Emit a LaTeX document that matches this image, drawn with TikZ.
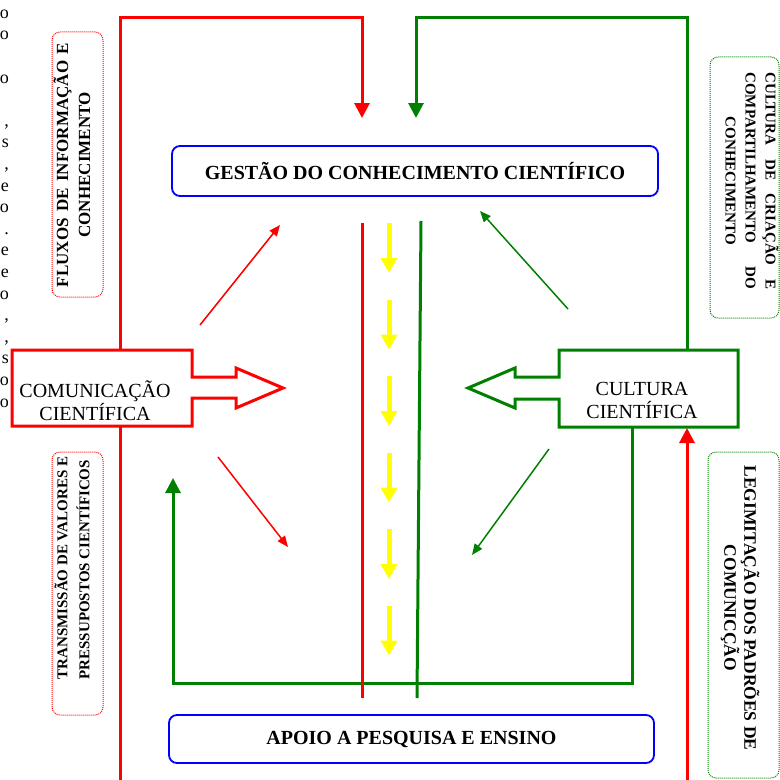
\documentclass[tikz,border=0pt]{standalone}
\usepackage{fontspec}
\setmainfont{Liberation Serif}
\usetikzlibrary{arrows.meta}
\definecolor{flowred}{RGB}{255,0,0}
\definecolor{flowgreen}{RGB}{0,128,0}
\definecolor{boxblue}{RGB}{0,0,255}
\definecolor{flowyellow}{RGB}{255,255,0}
\begin{document}
\begin{tikzpicture}[x=1bp,y=-1bp,
  thickred/.style={draw=flowred,line width=3bp},
  thickgreen/.style={draw=flowgreen,line width=3bp},
  bigtip/.style={-{Triangle[length=15bp,width=15bp]}},
  thintip/.style={-{Triangle[length=11bp,width=9bp]}},
  mainbox/.style={draw=boxblue,line width=1.8bp,rounded corners=8bp,fill=white,
    font=\fontsize{20bp}{24bp}\selectfont\bfseries,inner sep=0pt},
  boxtext/.style={font=\fontsize{20bp}{23bp}\selectfont,align=center,inner sep=0pt},
  sidetext/.style={font=\fontsize{15bp}{22bp}\selectfont\bfseries,align=center,inner sep=0pt},
  redframe/.style={draw=flowred,line width=1bp,dash pattern=on 1bp off 1bp,rounded corners=8bp},
  greenframe/.style={draw=flowgreen,line width=1bp,dash pattern=on 1bp off 1bp,rounded corners=8bp},
  yellowdash/.style={draw=flowyellow,line width=5bp,-{Triangle[length=15bp,width=16bp]}},
  stray/.style={font=\fontsize{18bp}{20bp}\selectfont,anchor=base east,inner sep=0pt}
]
\useasboundingbox (0,0) rectangle (780,780);
\clip (0,0) rectangle (780,780);

% cut-off line endings of the running text at the left margin (line k from the bottom)
\foreach \k/\c in {0/o,1/o,2/s,3/{,},4/{,},5/o,6/e,7/e,8/.,9/o,10/e,11/{,},12/s,13/{,},15/o,17/o,18/o}
  \node[stray] at (9,407-21.6*\k) {\c};

% main boxes
\node[mainbox,minimum width=486bp,minimum height=50bp] (gestao) at (415,171) {GESTÃO DO CONHECIMENTO CIENTÍFICO};
\node[mainbox,minimum width=485bp,minimum height=48bp] (apoio) at (411.5,739) {APOIO A PESQUISA E ENSINO};

% anchor points of the loops
\coordinate (redin)   at (362,118);
\coordinate (greenin) at (416,118);
\coordinate (redbase) at (120,780);
\coordinate (commtip) at (687,780);
\coordinate (cultn)   at (687,350);
\coordinate (cults)   at (632,427);
\coordinate (cultin)  at (687,428);
\coordinate (loopin)  at (173,478);

% outer loops
\draw[thickred,bigtip] (redbase) -- (120,18) -| (redin);
\draw[thickgreen,bigtip] (cultn) -- (687,18) -| (greenin);
\draw[thickgreen,bigtip] (cults) |- (173,683) -- (loopin);
\draw[thickred,bigtip] (commtip) -- (cultin);

% central channel
\coordinate (rtop) at (362,223);
\coordinate (rbot) at (362,698);
\coordinate (gtop) at (421,221);
\coordinate (gbot) at (417,698);
\draw[thickred] (rtop) -- (rbot);
\draw[thickgreen] (gtop) -- (gbot);
\foreach \y in {223,299.5,376,452.5,529,605.5}
  \draw[yellowdash] (389,\y) -- (389,\y+50);

% communication box with its arrow
\draw[thickred,fill=white] (12,350) -- (192,350) -- (192,377) -- (236,377) -- (236,368)
  -- (283,388) -- (236,408) -- (236,398) -- (192,398) -- (192,426) -- (12,426) -- cycle;
\node[boxtext] (comm) at (95,400.5) {COMUNICAÇÃO\\CIENTÍFICA};

% culture box with its arrow
\draw[thickgreen,fill=white] (738,350) -- (559,350) -- (559,377) -- (515,377) -- (515,368)
  -- (468,388) -- (515,408) -- (515,399) -- (559,399) -- (559,427) -- (738,427) -- cycle;
\node[boxtext] (cult) at (642,400.5) {CULTURA\\CIENTÍFICA};

% thin diagonal arrows
\coordinate (a1) at (200,325); \coordinate (b1) at (280,225);
\coordinate (a2) at (218,457); \coordinate (b2) at (288,547);
\coordinate (a3) at (568,309); \coordinate (b3) at (480,211);
\coordinate (a4) at (549,449); \coordinate (b4) at (472,555);
\draw[flowred,line width=1.5bp,thintip] (a1) -- (b1);
\draw[flowred,line width=1.5bp,thintip] (a2) -- (b2);
\draw[flowgreen,line width=1.5bp,thintip] (a3) -- (b3);
\draw[flowgreen,line width=1.5bp,thintip] (a4) -- (b4);

% side labels
\draw[redframe] (52,32) rectangle (103,297);
\node[sidetext,rotate=90,font=\fontsize{17bp}{22bp}\selectfont\bfseries] (fluxos) at (72,165)
  {\makebox[244bp][s]{FLUXOS DE INFORMAÇÃO E}\\CONHECIMENTO};
\draw[redframe] (52,452) rectangle (103,715);
\node[sidetext,rotate=90,align=left] (valores) at (72,568) {TRANSMISSÃO DE VALORES E\\PRESSUPOSTOS CIENTÍFICOS};
\draw[greenframe] (710,57) rectangle (779,318);
\node[sidetext,rotate=-90,font=\fontsize{15bp}{20bp}\selectfont\bfseries] (criacao) at (752,181)
  {\makebox[217bp][s]{CULTURA DE CRIAÇÃO E}\\\makebox[217bp][s]{COMPARTILHAMENTO DO}\\CONHECIMENTO};
\draw[greenframe] (708,452) rectangle (779,778);
\node[sidetext,rotate=-90,font=\fontsize{17.5bp}{20bp}\selectfont\bfseries] (padroes) at (740,608)
  {LEGIMITAÇÃO DOS PADRÕES DE\\COMUNICÇÃO};
\end{tikzpicture}
\end{document}
